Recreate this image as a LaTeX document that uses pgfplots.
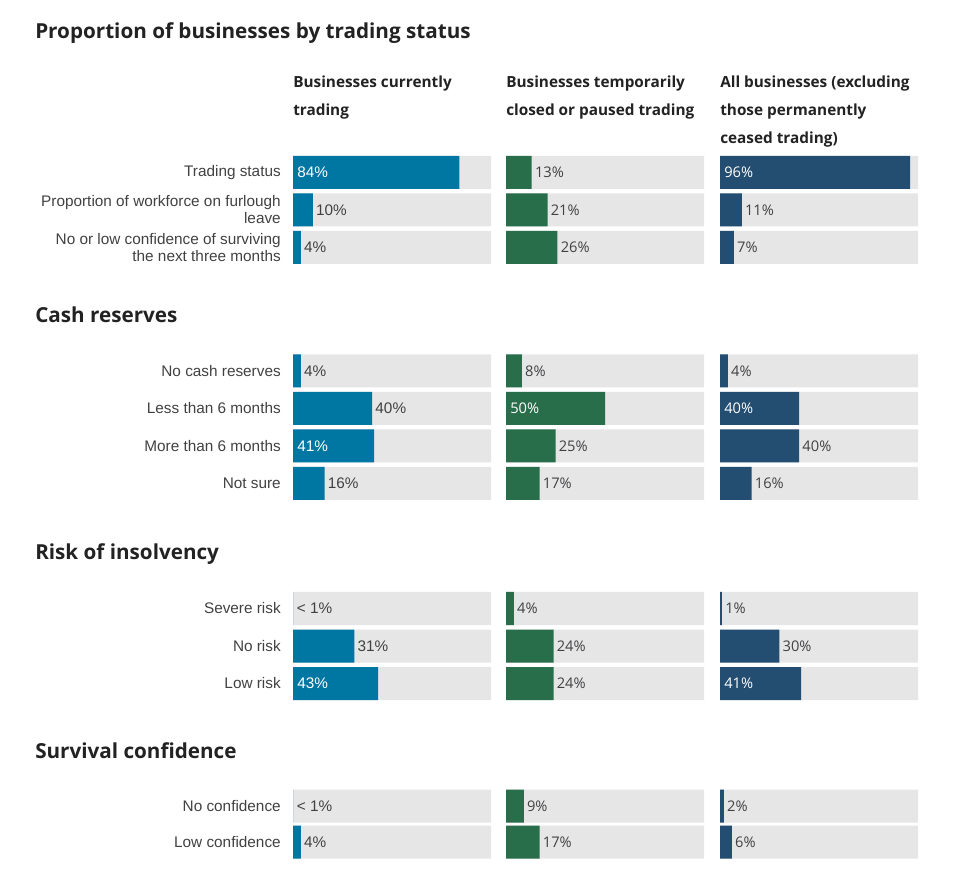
\documentclass[border=0pt]{standalone}
\usepackage{fontspec}
\setmainfont{Liberation Sans}
\newfontfamily\os{Open Sans}
\usepackage{pgfplots}
\pgfplotsset{compat=1.18}
\definecolor{cA}{HTML}{0076A3}
\definecolor{cB}{HTML}{286E4A}
\definecolor{cC}{HTML}{234D71}
\definecolor{bg}{HTML}{E6E6E7}
\definecolor{txt}{HTML}{414042}
\definecolor{ttl}{HTML}{222222}
\newcommand\pxat[2]{({#1*0.75pt},{(886-#2)*0.75pt})}
\pgfplotsset{
 col/.style={scale only axis, width=148.5pt, height=664.5pt, xmin=0, xmax=100, ymin=-886, ymax=0,
   clip=false, axis line style={draw=none}, xtick=\empty, ytick=\empty, major tick length=0pt, anchor=south west},
 bgbar/.style={xbar, bar width=33, bar shift=0pt, fill=bg, draw=none, forget plot},
 valbar/.style={xbar, bar width=33, bar shift=0pt, draw=none, fill=#1, forget plot},
 lblout/.style={xbar, bar width=1, bar shift=0pt, draw=none, fill=none, forget plot, point meta=explicit symbolic,
   nodes near coords, nodes near coords style={anchor=west, inner sep=0pt, xshift=2.25pt, text=txt, font=#1}},
 lblin/.style={xbar, bar width=1, bar shift=0pt, draw=none, fill=none, forget plot, point meta=explicit symbolic,
   nodes near coords, nodes near coords style={anchor=west, inner sep=0pt, xshift=3pt, text=white, font=#1}},
}
\newcommand\bgrows{\addplot[bgbar] coordinates {(100,-172.5) (100,-210) (100,-247.5) (100,-371) (100,-408.5) (100,-446) (100,-483.5) (100,-608.5) (100,-646) (100,-683.5) (100,-806) (100,-842)};}
\newcommand\lf{\fontsize{11.5}{12.75}\selectfont}
\newcommand\lfo{\os\fontsize{11}{12.75}\selectfont}
\newcommand\tf{\os\bfseries\fontsize{15.5}{18}\selectfont}
\newcommand\hf{\os\bfseries\fontsize{11.5}{13}\selectfont}
\begin{document}
\begin{tikzpicture}
\path[use as bounding box] (0,0) rectangle (720pt,664.5pt);
% Column 1
\begin{axis}[col, at={(219.75pt,0pt)},
  ytick={-172.5,-210,-247.5,-371,-408.5,-446,-483.5,-608.5,-646,-683.5,-806,-842},
  yticklabels={{Trading status},{Proportion of workforce on furlough\\leave},{No or low confidence of surviving\\the next three months},
   {No cash reserves},{Less than 6 months},{More than 6 months},{Not sure},
   {Severe risk},{No risk},{Low risk},{No confidence},{Low confidence}},
  yticklabel style={align=right, font=\lf, text=txt, inner sep=0pt, xshift=-9pt}]
\bgrows
\addplot[valbar=cA] coordinates {(84,-172.5) (10,-210) (4,-247.5) (4,-371) (40,-408.5) (41,-446) (16,-483.5) (0,-608.5) (31,-646) (43,-683.5) (0,-806) (4,-842)};
\addplot[lblout=\lf] coordinates {(10,-210) [10\%] (4,-247.5) [4\%] (4,-371) [4\%] (40,-408.5) [40\%] (16,-483.5) [16\%] (0.3,-608.5) [< 1\%] (31,-646) [31\%] (0.3,-806) [< 1\%] (4,-842) [4\%]};
\addplot[lblin=\lf] coordinates {(0,-172.5) [84\%] (0,-446) [41\%] (0,-683.5) [43\%]};
\end{axis}
% Column 2
\begin{axis}[col, at={(379.5pt,0pt)}]
\bgrows
\addplot[valbar=cB] coordinates {(13,-172.5) (21,-210) (26,-247.5) (8,-371) (50,-408.5) (25,-446) (17,-483.5) (4,-608.5) (24,-646) (24,-683.5) (9,-806) (17,-842)};
\addplot[lblout=\lfo] coordinates {(13,-172.5) [13\%] (21,-210) [21\%] (26,-247.5) [26\%] (8,-371) [8\%] (25,-446) [25\%] (17,-483.5) [17\%] (4,-608.5) [4\%] (24,-646) [24\%] (24,-683.5) [24\%] (9,-806) [9\%] (17,-842) [17\%]};
\addplot[lblin=\lfo] coordinates {(0,-408.5) [50\%]};
\end{axis}
% Column 3
\begin{axis}[col, at={(540pt,0pt)}]
\bgrows
\addplot[valbar=cC] coordinates {(96,-172.5) (11,-210) (7,-247.5) (4,-371) (40,-408.5) (40,-446) (16,-483.5) (1,-608.5) (30,-646) (41,-683.5) (2,-806) (6,-842)};
\addplot[lblout=\lfo] coordinates {(11,-210) [11\%] (7,-247.5) [7\%] (4,-371) [4\%] (40,-446) [40\%] (16,-483.5) [16\%] (1,-608.5) [1\%] (30,-646) [30\%] (2,-806) [2\%] (6,-842) [6\%]};
\addplot[lblin=\lfo] coordinates {(0,-172.5) [96\%] (0,-408.5) [40\%] (0,-683.5) [41\%]};
\end{axis}
% Titles
\begin{scope}[every node/.style={anchor=base west, inner sep=0pt, text=ttl}]
\node[font=\tf] at \pxat{35}{39} {Proportion of businesses by trading status};
\node[font=\tf] at \pxat{35}{323} {Cash reserves};
\node[font=\tf] at \pxat{35}{560} {Risk of insolvency};
\node[font=\tf] at \pxat{35}{758} {Survival confidence};
\node[font=\hf] at \pxat{293}{88} {Businesses currently};
\node[font=\hf] at \pxat{293}{116} {trading};
\node[font=\hf] at \pxat{506}{88} {Businesses temporarily};
\node[font=\hf] at \pxat{506}{116} {closed or paused trading};
\node[font=\hf] at \pxat{720}{88} {All businesses (excluding};
\node[font=\hf] at \pxat{720}{116} {those permanently};
\node[font=\hf] at \pxat{720}{144} {ceased trading)};
\end{scope}
\end{tikzpicture}
\end{document}
